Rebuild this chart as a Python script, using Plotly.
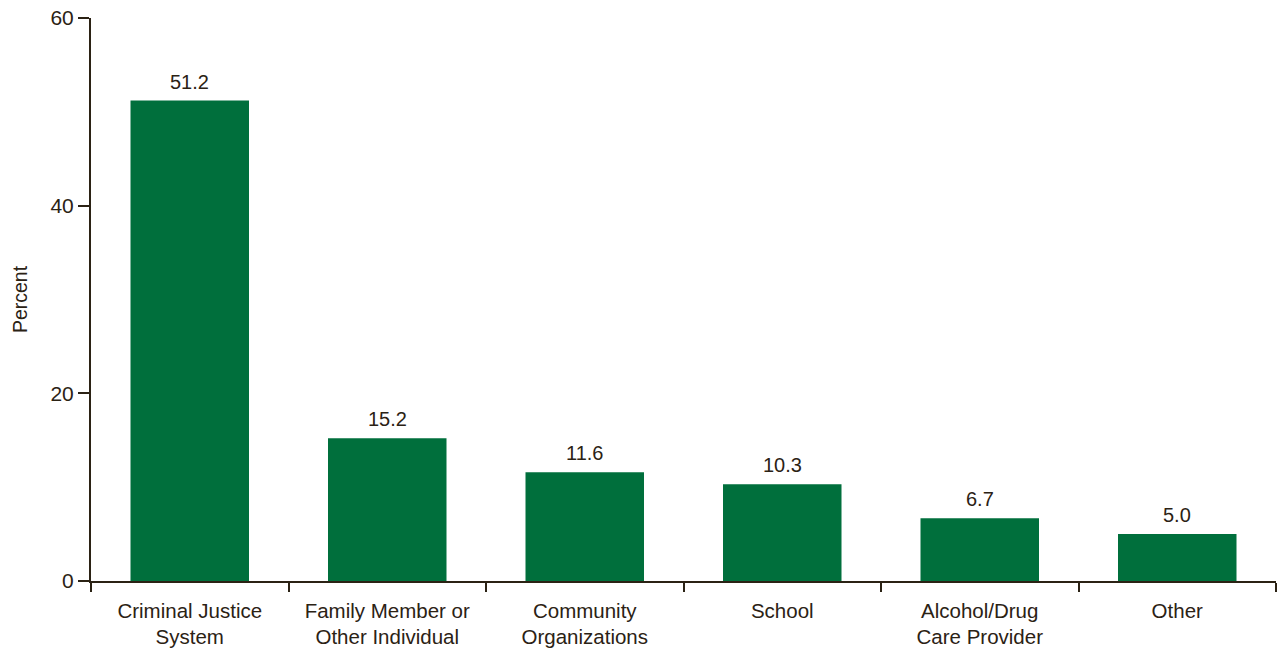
import plotly.graph_objects as go

categories = ["Criminal Justice<br>System", "Family Member or<br>Other Individual",
              "Community<br>Organizations", "School", "Alcohol/Drug<br>Care Provider", "Other"]
values = [51.2, 15.2, 11.6, 10.3, 6.7, 5.0]
y_ticks = [0, 20, 40, 60]

ink = "#2b2214"
green = "#006f3c"
font_family = "Liberation Sans, Arial, Helvetica, sans-serif"

fig = go.Figure()
fig.add_trace(go.Bar(x=categories, y=values, marker=dict(color=green, line=dict(width=0)),
                     hoverinfo="skip"))

for c, v in zip(categories, values):
    fig.add_annotation(x=c, y=v, text=f"{v:.1f}", showarrow=False, yanchor="bottom",
                       yshift=6, font=dict(size=20, color=ink, family=font_family))

fig.update_layout(
    width=1281, height=650,
    margin=dict(l=91, r=5, t=18, b=69),
    paper_bgcolor="white", plot_bgcolor="white",
    bargap=0.4, showlegend=False,
    font=dict(family=font_family, color=ink, size=20),
    xaxis=dict(showline=True, linecolor=ink, linewidth=2, ticks="outside", tickson="boundaries",
               ticklen=9, tickwidth=2, tickcolor=ink, showgrid=False, ticklabelstandoff=10,
               automargin=False, tickfont=dict(size=20.5, color=ink)),
    yaxis=dict(range=[0, 60], tickvals=y_ticks, showline=True, linecolor=ink, linewidth=2,
               ticks="outside", ticklen=11, tickwidth=2, tickcolor=ink, showgrid=False,
               zeroline=False, automargin=False, tickfont=dict(size=21, color=ink),
               title=dict(text="Percent", font=dict(size=19.5, color=ink), standoff=18)),
)

fig.write_html("out.html")
